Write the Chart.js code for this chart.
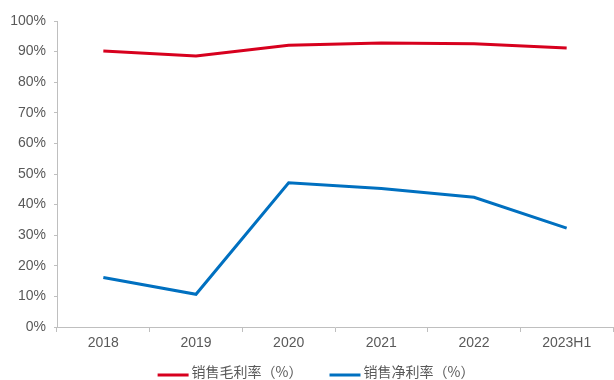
<!DOCTYPE html>
<html>
<head>
<meta charset="utf-8">
<script src="https://cdn.jsdelivr.net/npm/chart.js@4.4.0/dist/chart.umd.min.js"></script>
<style>
  html, body { margin: 0; padding: 0; background: #fff; }
  #wrap { width: 614px; height: 380px; }
</style>
</head>
<body>
<div id="wrap"><canvas id="margin-chart" width="614" height="380"></canvas></div>
<script>
    // Categories and series (%)
    var years = ["2018", "2019", "2020", "2021", "2022", "2023H1"];
    var grossMargin = [90.2, 88.6, 92.1, 92.8, 92.6, 91.2];
    var netMargin = [16.2, 10.7, 47.1, 45.3, 42.4, 32.3];
    var seriesNames = ["销售毛利率（%）", "销售净利率（%）"];

    var axisColor = "#BFBFBF";
    var textColor = "#595959";
    var tickFont = { family: "'Liberation Sans', Arial", size: 14 };
    var legendFont = "14px 'Noto Sans CJK SC', sans-serif";

    // Legend row under the x axis: short line + label, centred on the canvas
    var bottomLegend = {
        id: "bottomLegend",
        afterDraw: function (chart) {
            var c = chart.ctx;
            var lineLen = 31, gap = 3, itemGap = 27, lineY = 375, textY = 372;
            c.save();
            c.font = legendFont;
            var widths = chart.data.datasets.map(function (ds) {
                return lineLen + gap + c.measureText(ds.label).width;
            });
            var total = widths.reduce(function (a, b) { return a + b; }, 0) + itemGap * (widths.length - 1);
            var x = chart.width / 2 + 9 - total / 2;
            chart.data.datasets.forEach(function (ds, i) {
                c.strokeStyle = ds.borderColor;
                c.lineWidth = 3;
                c.beginPath();
                c.moveTo(x, lineY);
                c.lineTo(x + lineLen, lineY);
                c.stroke();
                c.fillStyle = textColor;
                c.textBaseline = "middle";
                c.textAlign = "left";
                c.fillText(ds.label, x + lineLen + gap, textY);
                x += widths[i] + itemGap;
            });
            c.restore();
        }
    };

    var ctx = document.getElementById("margin-chart").getContext("2d");
    new Chart(ctx, {
        type: "line",
        data: {
            labels: years,
            datasets: [
                { label: seriesNames[0], data: grossMargin, borderColor: "#D7001E", borderWidth: 3, pointRadius: 0, tension: 0 },
                { label: seriesNames[1], data: netMargin, borderColor: "#0070C0", borderWidth: 3, pointRadius: 0, tension: 0 }
            ]
        },
        options: {
            responsive: false,
            animation: false,
            devicePixelRatio: 1,
            layout: { padding: { top: 21, right: 1, left: 0, bottom: 27 } },
            plugins: {
                tooltip: { enabled: false },
                legend: { display: false }
            },
            scales: {
                x: {
                    offset: true,
                    grid: { offset: true, drawOnChartArea: false, color: axisColor, tickLength: 5 },
                    border: { color: axisColor },
                    ticks: { color: textColor, font: tickFont, padding: 3 },
                    afterFit: function (scale) { scale.height = 26; }
                },
                y: {
                    min: 0,
                    max: 100,
                    ticks: {
                        stepSize: 10,
                        color: textColor,
                        padding: 8,
                        font: tickFont,
                        callback: function (v) { return v + "%"; }
                    },
                    grid: { drawOnChartArea: false, color: axisColor, tickLength: 3 },
                    border: { color: axisColor },
                    afterFit: function (scale) { scale.width = 57; }
                }
            }
        },
        plugins: [bottomLegend]
    });
</script>
</body>
</html>
